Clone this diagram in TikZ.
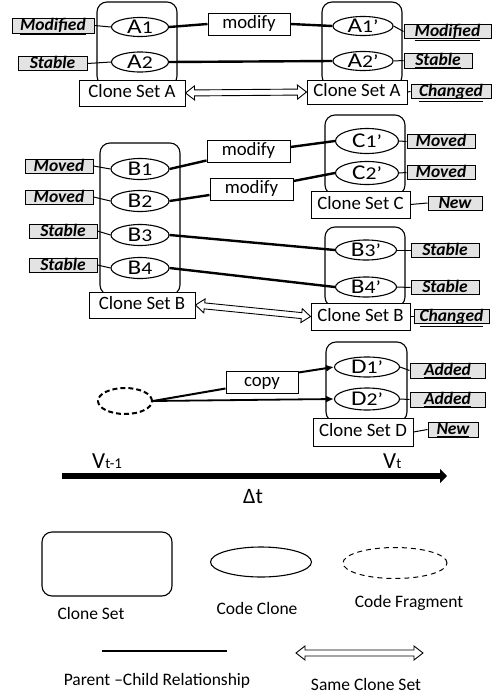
\documentclass[tikz,border=0pt]{standalone}
\usepackage{fontspec}
\setmainfont{Carlito}
\newfontfamily\widefont{Carlito}[FakeStretch=1.2]
\usetikzlibrary{arrows.meta,shapes.geometric,calc}
\newcommand\clnm[2]{#1{\fontsize{18}{18}\selectfont #2}}
\newcommand\hdarrow[2]{%
 \draw[line width=0.9pt,fill=white,line join=miter] let \p1=($(#2)-(#1)$), \n1={atan2(\y1,\x1)}, \n2={veclen(\x1,\y1)} in
  [shift={(#1)},rotate=\n1]
  (0pt,0pt) -- (9pt,7pt) -- (9pt,3pt) -- ({\n2*1pt-9pt},3pt) -- ({\n2*1pt-9pt},7pt) -- ({\n2*1pt},0pt)
  -- ({\n2*1pt-9pt},-7pt) -- ({\n2*1pt-9pt},-3pt) -- (9pt,-3pt) -- (9pt,-7pt) -- cycle;}
\begin{document}
\begin{tikzpicture}[x=1pt,y=-1pt,
  clset/.style={draw,line width=1.1pt,rounded corners=10pt,inner sep=0pt},
  clone/.style={ellipse,draw,line width=1.1pt,fill=white,inner sep=0pt,text height=13pt,text depth=0pt,font=\widefont\fontsize{21}{21}\selectfont},
  csbox/.style={draw,line width=1pt,fill=white,inner sep=0pt,text height=12.5pt,text depth=3pt,font=\fontsize{18.8}{18.8}\selectfont},
  lab/.style={draw,line width=1pt,fill=gray!22,inner sep=0pt,text height=11pt,text depth=0.5pt,font=\fontsize{17.5}{17.5}\selectfont\bfseries\itshape},
  thin/.style={line width=1pt},
  thick/.style={line width=2.4pt},
  leg/.style={font=\fontsize{17.5}{17.5}\selectfont,inner sep=0pt},
  arr/.style={-{Latex[length=8pt,width=7pt]}}
]
\useasboundingbox (0,0) rectangle (496,696);

% ---------- Clone set A ----------
\node[clset,minimum width=80pt,minimum height=84pt] (setAL) at (137,44) {};
\node[clset,minimum width=80pt,minimum height=84pt] (setAR) at (362,44) {};
\node[clone,minimum width=57pt,minimum height=19pt] (A1) at (140,27) {\clnm{A}{1}};
\node[clone,minimum width=57pt,minimum height=20pt] (A2) at (140,62) {\clnm{A}{2}};
\node[clone,minimum width=60pt,minimum height=19pt] (A1p) at (363,26) {\clnm{A}{1’}};
\node[clone,minimum width=60pt,minimum height=19pt] (A2p) at (363,61) {\clnm{A}{2’}};
\node[csbox,minimum width=106pt,minimum height=26pt] (csAL) at (132,93) {Clone Set A};
\node[csbox,minimum width=100pt,minimum height=24pt] (csAR) at (357,92) {Clone Set A};
\node[csbox,minimum width=82pt,minimum height=22pt] (modA) at (249,24) {modify};
\node[lab,minimum width=82pt,minimum height=15pt] (lA1) at (53,25.5) {\underline{Modified}};
\node[lab,minimum width=69pt,minimum height=14pt] (lA2) at (52.5,63.5) {\underline{Stable}};
\node[lab,minimum width=87pt,minimum height=14pt] (lA1p) at (447.5,31.5) {\underline{Modified}};
\node[lab,minimum width=68pt,minimum height=15pt] (lA2p) at (438,60.5) {\underline{Stable}};
\node[lab,minimum width=80pt,minimum height=14pt] (lAc) at (451,91.5) {\underline{Changed}};
\draw[thin] (lA1.east) -- (A1.west);
\draw[thin] (lA2.east) -- (A2.west);
\draw[thin] (A1p.east) -- (lA1p.west);
\draw[thin] (A2p.east) -- (lA2p.west);
\draw[thin] (csAR.east) -- (lAc.west);
\draw[thick] (A1.east) -- (modA.west);
\draw[thick] (modA.east) -- (A1p.west);
\draw[thick] (A2.east) -- (A2p.west);
\hdarrow{csAL.east}{csAR.west}

% ---------- Clone sets B and C ----------
\node[clset,minimum width=80pt,minimum height=152pt] (setBL) at (140,219) {};
\node[clset,minimum width=80pt,minimum height=80pt] (setC) at (365,155) {};
\node[clset,minimum width=80pt,minimum height=80pt] (setBR) at (365,267) {};
\node[clone,minimum width=58pt,minimum height=21pt] (B1) at (140,169) {\clnm{B}{1}};
\node[clone,minimum width=58pt,minimum height=21pt] (B2) at (140,201) {\clnm{B}{2}};
\node[clone,minimum width=58pt,minimum height=21pt] (B3) at (140,235) {\clnm{B}{3}};
\node[clone,minimum width=58pt,minimum height=21pt] (B4) at (140,268) {\clnm{B}{4}};
\node[clone,minimum width=63pt,minimum height=25pt] (C1p) at (367,141) {\clnm{C}{1’}};
\node[clone,minimum width=63pt,minimum height=23pt] (C2p) at (367,173) {\clnm{C}{2’}};
\node[clone,minimum width=61pt,minimum height=20pt] (B3p) at (366,250) {\clnm{B}{3’}};
\node[clone,minimum width=61pt,minimum height=20pt] (B4p) at (366,287) {\clnm{B}{4’}};
\node[csbox,minimum width=106pt,minimum height=26pt] (csBL) at (142,305) {Clone Set B};
\node[csbox,minimum width=99pt,minimum height=27pt] (csC) at (360.5,204.5) {Clone Set C};
\node[csbox,minimum width=99pt,minimum height=27pt] (csBR) at (360.5,316.5) {Clone Set B};
\node[csbox,minimum width=83pt,minimum height=22pt] (mod1) at (248.5,151) {modify};
\node[csbox,minimum width=83pt,minimum height=22pt] (mod2) at (251.5,189) {modify};
\node[lab,minimum width=68pt,minimum height=14pt] (lB1) at (59,166) {\underline{Moved}};
\node[lab,minimum width=68pt,minimum height=14pt] (lB2) at (59,197) {\underline{Moved}};
\node[lab,minimum width=68pt,minimum height=14pt] (lB3) at (63,231) {\underline{Stable}};
\node[lab,minimum width=68pt,minimum height=14pt] (lB4) at (63,265) {\underline{Stable}};
\node[lab,minimum width=68pt,minimum height=14pt] (lC1) at (441,141.5) {\underline{Moved}};
\node[lab,minimum width=68pt,minimum height=14pt] (lC2) at (441,172.5) {\underline{Moved}};
\node[lab,minimum width=54pt,minimum height=14pt] (lCn) at (455,203) {\underline{New}};
\node[lab,minimum width=68pt,minimum height=14pt] (lB3p) at (445,250) {\underline{Stable}};
\node[lab,minimum width=68pt,minimum height=14pt] (lB4p) at (445,287.5) {\underline{Stable}};
\node[lab,minimum width=75pt,minimum height=14pt] (lBc) at (451.5,316.5) {\underline{Changed}};
\draw[thin] (lB1.east) -- (B1.west);
\draw[thin] (lB2.east) -- (B2.west);
\draw[thin] (lB3.east) -- (B3.west);
\draw[thin] (lB4.east) -- (B4.west);
\draw[thin] (C1p.east) -- (lC1.west);
\draw[thin] (C2p.east) -- (lC2.west);
\draw[thin] (csC.east) -- (lCn.west);
\draw[thin] (B3p.east) -- (lB3p.west);
\draw[thin] (B4p.east) -- (lB4p.west);
\draw[thin] (csBR.east) -- (lBc.west);
\draw[thick] (B1.east) -- ([yshift=2pt]mod1.south west);
\draw[thick] ([yshift=4pt]mod1.east) -- (C1p.west);
\draw[thick] (B2.east) -- ([yshift=-6pt]mod2.west);
\draw[thick] ([yshift=8pt]mod2.east) -- (C2p.west);
\draw[thick] (B3.east) -- (B3p.west);
\draw[thick] (B4.east) -- (B4p.west);
\hdarrow{csBL.east}{csBR.west}

% ---------- Clone set D ----------
\node[clset,minimum width=81pt,minimum height=80pt] (setD) at (366.5,382) {};
\node[clone,minimum width=65pt,minimum height=20pt] (D1p) at (367,367) {\clnm{D}{1’}};
\node[clone,minimum width=65pt,minimum height=22pt] (D2p) at (367,399) {\clnm{D}{2’}};
\node[csbox,minimum width=100pt,minimum height=28pt] (csD) at (363,432) {Clone Set D};
\node[csbox,minimum width=72pt,minimum height=22pt] (copy) at (262,382) {copy};
\node[ellipse,draw,dash pattern=on 5pt off 3pt,line width=2pt,minimum width=54pt,minimum height=26pt,inner sep=0pt] (frag) at (125,401) {};
\node[lab,minimum width=75pt,minimum height=15pt] (lD1) at (447.5,370.5) {\underline{Added}};
\node[lab,minimum width=75pt,minimum height=15pt] (lD2) at (447.5,399.5) {\underline{Added}};
\node[lab,minimum width=50pt,minimum height=15pt] (lDn) at (453,429.5) {\underline{New}};
\draw[thin] (D1p.east) -- (lD1.west);
\draw[thin] (D2p.east) -- (lD2.west);
\draw[thin] (csD.east) -- (lDn.west);
\draw[line width=2pt] (frag.east) -- ([yshift=5pt]copy.south west);
\draw[line width=2pt,arr] ([yshift=-2pt]copy.north east) -- (D1p.west);
\draw[line width=1.8pt,arr] (frag.east) -- (D2p.west);

% ---------- time axis ----------
\coordinate (t0) at (62,476);
\coordinate (t1) at (447,476);
\draw[line width=6.5pt,-{Triangle[length=7pt,width=14pt]}] (t0) -- (t1);
\node[anchor=base west,inner sep=0pt] (vt1) at (92,468) {\fontsize{23}{23}\selectfont V\fontsize{15}{15}\selectfont t-1};
\node[anchor=base west,inner sep=0pt] (vt) at (383,468) {\fontsize{23}{23}\selectfont V\fontsize{15}{15}\selectfont t};
\node[anchor=base,inner sep=0pt] (dt) at (253,503) {\fontsize{22}{22}\selectfont Δt};

% ---------- legend ----------
\node[clset,minimum width=130pt,minimum height=64pt] (legset) at (107,564) {};
\node[leg] (legsettx) at (91,613) {Clone Set};
\node[ellipse,draw,line width=1.1pt,minimum width=101pt,minimum height=30pt,inner sep=0pt] (legcl) at (261,562) {};
\node[leg] (legcltx) at (257,608) {Code Clone};
\node[ellipse,draw,line width=1pt,dash pattern=on 5pt off 4pt,minimum width=104pt,minimum height=31pt,inner sep=0pt] (legfr) at (395,563) {};
\node[leg] (legfrtx) at (409,603) {Code Fragment};
\coordinate (pc0) at (102,651);
\coordinate (pc1) at (227,651);
\draw[line width=2.4pt] (pc0) -- (pc1);
\node[leg] (legpctx) at (157,681) {Parent –Child Relationship};
\coordinate (sc0) at (296,653);
\coordinate (sc1) at (423,653);
\hdarrow{sc0}{sc1}
\node[leg] (legsctx) at (366,684) {Same Clone Set};
\end{tikzpicture}
\end{document}
